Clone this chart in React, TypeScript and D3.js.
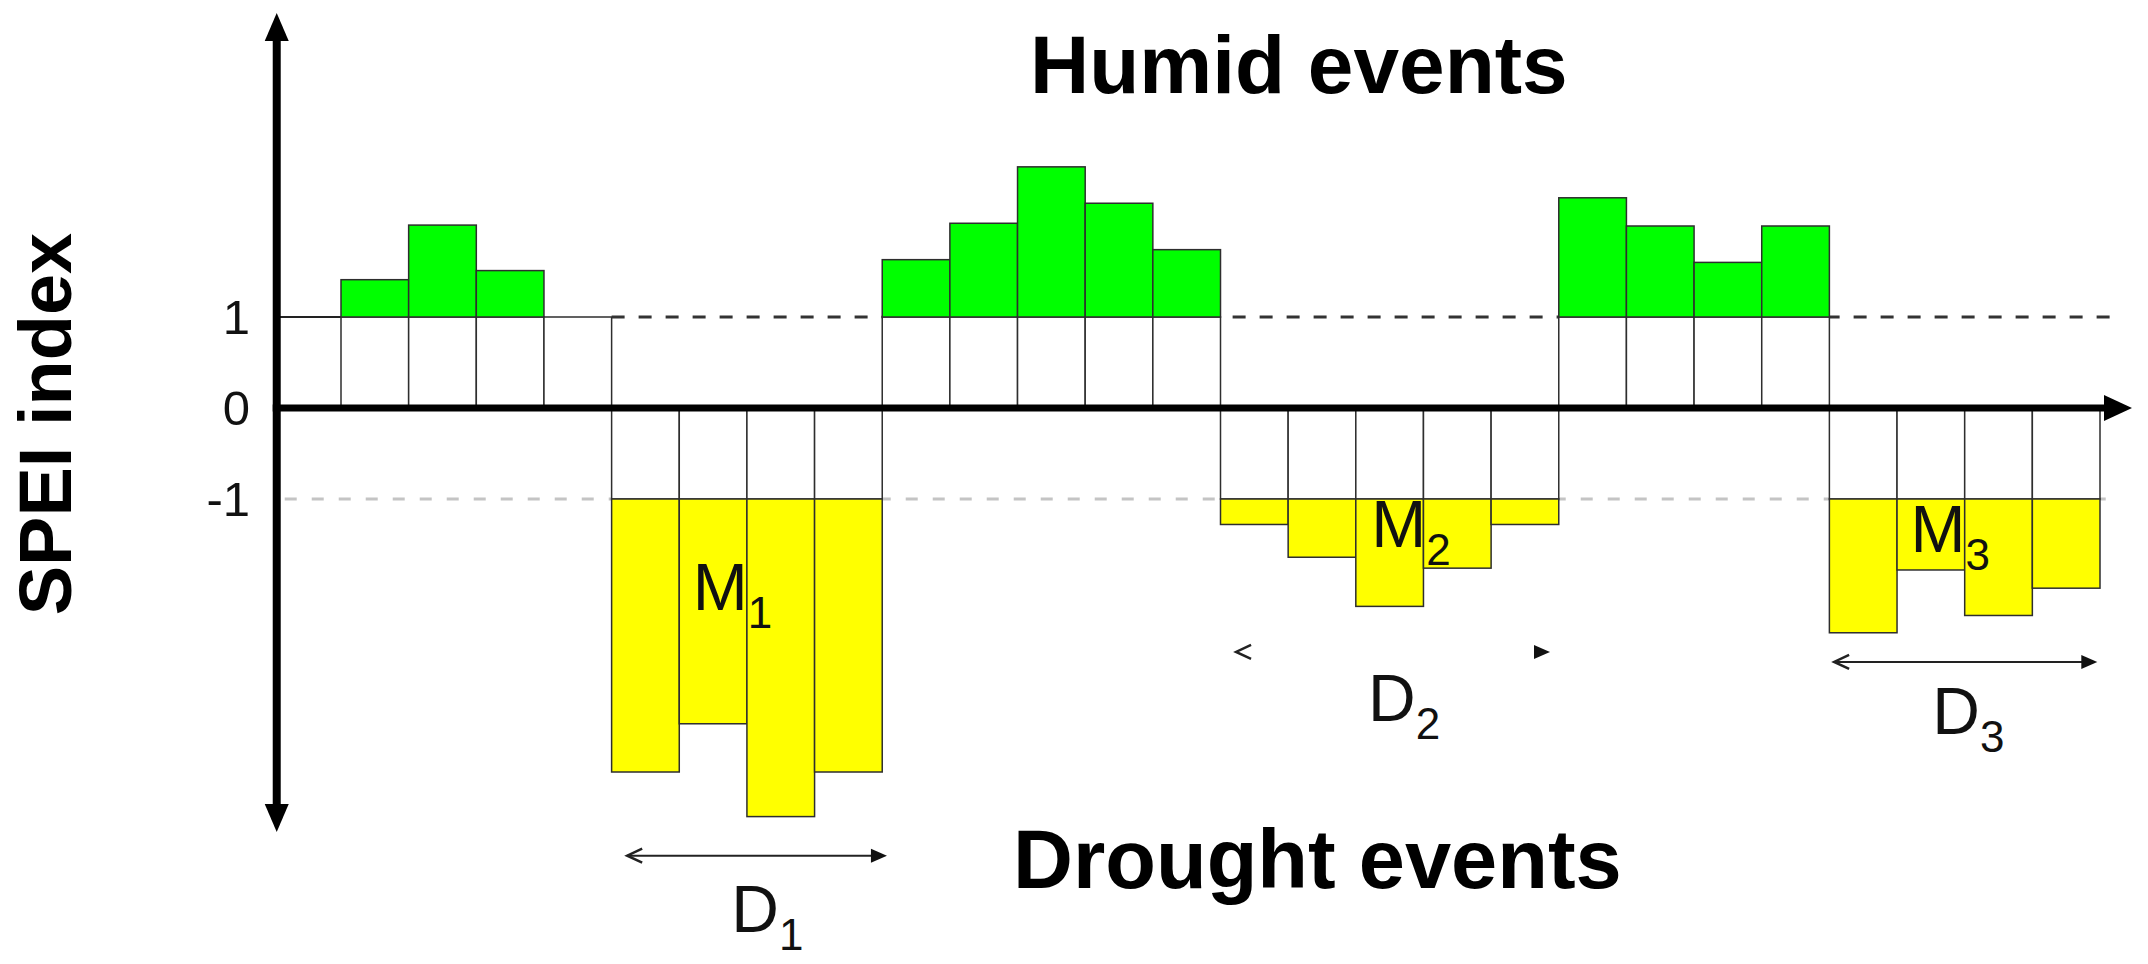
import React from 'react';
import * as d3 from 'd3';

const W = 2148;
const H = 964;
const FONT = "'Liberation Sans', Arial, sans-serif";

// SPEI value of each time step (one bar per step)
const speiValues = [
  1.41, 2.01, 1.51, 1.0,
  -4.0, -3.47, -4.49, -4.0,
  1.63, 2.03, 2.65, 2.25, 1.74,
  -1.28, -1.64, -2.18, -1.76, -1.28,
  2.31, 2.0, 1.6, 2.0,
  -2.47, -1.78, -2.28, -1.98,
];
const tickValues = [1, 0, -1];
const tickLabels = ['1', '0', '-1'];
const humidThreshold = 1;
const droughtThreshold = -1;

// drought events: magnitude label (M) and duration arrow (D), in data units
const eventIds = ['1', '2', '3'];
const magLabelX = [5.2, 15.23, 23.2];
const magLabelY = [-2.22, -1.53, -1.58];
const durFrom = [4.23, 13.23, 22.07];
const durTo = [8.07, 17.87, 25.96];
const durY = [-4.92, -2.68, -2.79];
const durShaft = [true, false, true];
const durLabelX = [5.77, 15.18, 23.52];
const durLabelY = [-5.76, -3.44, -3.58];

export default function App() {
  const x = d3.scaleLinear().domain([0, speiValues.length]).range([341, 2100]);
  const y = d3.scaleLinear().domain([-1, 1]).range([499, 317]);

  const axisX = x(-0.95);
  const axisY = y(0);
  const axisTop = 13;
  const axisBottom = 832;
  const axisRight = 2132;
  const lineEnd = 2115;
  const bw = x(1) - x(0);

  const barStroke = '#2e2e2e';

  return (
    <svg width={W} height={H} style={{ position: 'absolute', left: 0, top: 0, background: '#fff' }}>
      {/* threshold lines */}
      <line x1={axisX} x2={x(0)} y1={y(humidThreshold)} y2={y(humidThreshold)} stroke="#222" strokeWidth={2} />
      <line x1={x(4)} x2={lineEnd} y1={y(humidThreshold)} y2={y(humidThreshold)}
        stroke="#333" strokeWidth={3} strokeDasharray="13 14" />
      <line x1={axisX + 8} x2={lineEnd} y1={y(droughtThreshold)} y2={y(droughtThreshold)}
        stroke="#c4c4c4" strokeWidth={3} strokeDasharray="12 15" />

      {/* bars */}
      {speiValues.map((v, i) => {
        const x0 = x(i);
        if (v >= 0) {
          return (
            <g key={i}>
              <rect x={x0} y={y(humidThreshold)} width={bw} height={y(0) - y(humidThreshold)}
                fill="#fff" stroke={barStroke} strokeWidth={1.5} />
              {v > humidThreshold && (
                <rect x={x0} y={y(v)} width={bw} height={y(humidThreshold) - y(v)}
                  fill="#00ff00" stroke={barStroke} strokeWidth={1.5} />
              )}
            </g>
          );
        }
        return (
          <g key={i}>
            <rect x={x0} y={y(0)} width={bw} height={y(droughtThreshold) - y(0)}
              fill="#fff" stroke={barStroke} strokeWidth={1.5} />
            {v < droughtThreshold && (
              <rect x={x0} y={y(droughtThreshold)} width={bw} height={y(v) - y(droughtThreshold)}
                fill="#ffff00" stroke={barStroke} strokeWidth={1.5} />
            )}
          </g>
        );
      })}

      {/* axes */}
      <line x1={axisX} x2={axisX} y1={axisTop + 20} y2={axisBottom - 20} stroke="#000" strokeWidth={8} />
      <polygon points={`${axisX},${axisTop} ${axisX - 12},${axisTop + 28} ${axisX + 12},${axisTop + 28}`} fill="#000" />
      <polygon points={`${axisX},${axisBottom} ${axisX - 12},${axisBottom - 28} ${axisX + 12},${axisBottom - 28}`} fill="#000" />
      <line x1={axisX - 4} x2={axisRight - 20} y1={axisY} y2={axisY} stroke="#000" strokeWidth={7} />
      <polygon points={`${axisRight},${axisY} ${axisRight - 28},${axisY - 13} ${axisRight - 28},${axisY + 13}`} fill="#000" />

      {/* tick labels */}
      {tickValues.map((t, i) => (
        <text key={t} x={250} y={y(t) + 17} textAnchor="end" fontFamily={FONT} fontSize={49} fill="#111">
          {tickLabels[i]}
        </text>
      ))}

      {/* y axis title */}
      <text transform={`translate(71,424) rotate(-90)`} textAnchor="middle" fontFamily={FONT}
        fontWeight="bold" fontSize={74} fill="#000">SPEI index</text>

      {/* titles */}
      <text x={1030} y={93} fontFamily={FONT} fontWeight="bold" fontSize={82} fill="#000">Humid events</text>
      <text x={1013} y={888} fontFamily={FONT} fontWeight="bold" fontSize={83} fill="#000">Drought events</text>

      {/* event annotations */}
      {eventIds.map((id, i) => {
        const ax1 = x(durFrom[i]);
        const ax2 = x(durTo[i]);
        const ay = y(durY[i]);
        return (
          <g key={id} fontFamily={FONT} fill="#111">
            <text x={x(magLabelX[i])} y={y(magLabelY[i])} fontSize={66}>
              M<tspan fontSize={44} dy={18}>{id}</tspan>
            </text>
            {durShaft[i] && <line x1={ax1} x2={ax2 - 6} y1={ay} y2={ay} stroke="#222" strokeWidth={2} />}
            <polyline points={`${ax1 + 15},${ay - 7} ${ax1},${ay} ${ax1 + 15},${ay + 7}`}
              fill="none" stroke="#222" strokeWidth={2.5} />
            <polygon points={`${ax2},${ay} ${ax2 - 16},${ay - 7} ${ax2 - 16},${ay + 7}`} fill="#111" />
            <text x={x(durLabelX[i])} y={y(durLabelY[i])} fontSize={66}>
              D<tspan fontSize={44} dy={18}>{id}</tspan>
            </text>
          </g>
        );
      })}
    </svg>
  );
}
